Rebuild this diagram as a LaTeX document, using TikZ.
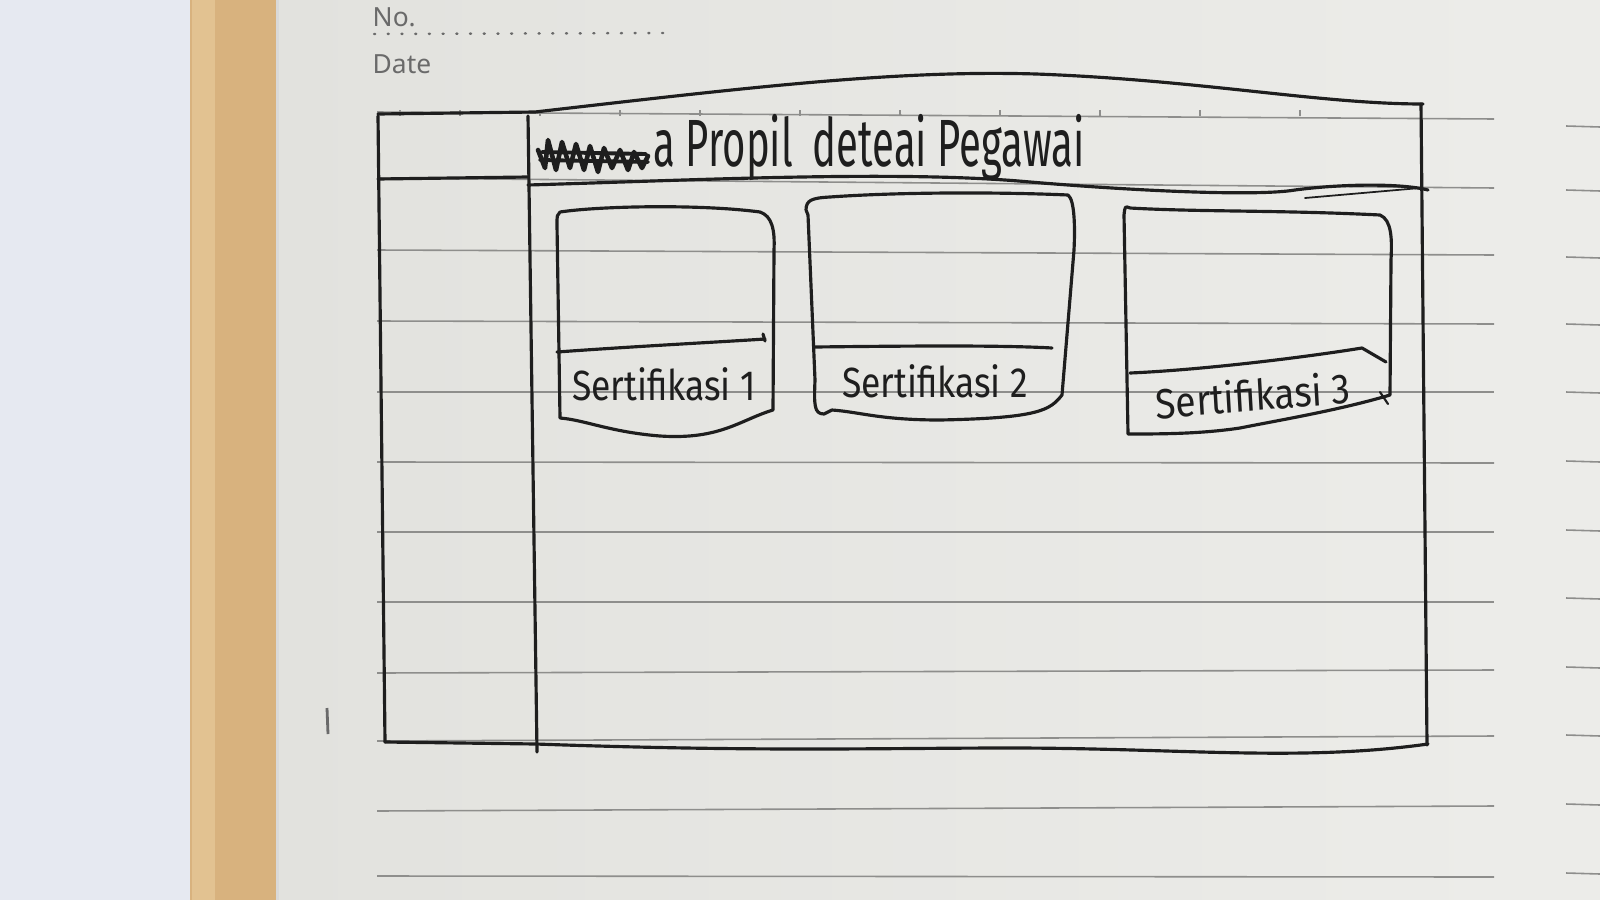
\documentclass[tikz,border=0pt]{standalone}
\usepackage{fontspec}
\setmainfont{Noto Sans}
\newfontfamily\hand{Fira Sans}
\usetikzlibrary{calc}
\definecolor{deskblue}{HTML}{E6E9F1}
\definecolor{wood}{HTML}{D8B27E}
\definecolor{woodlight}{HTML}{E2C291}
\definecolor{paper}{HTML}{E2E2DE}
\definecolor{paperlight}{HTML}{ECECE9}
\definecolor{rule}{HTML}{8E8E8C}
\definecolor{printgray}{HTML}{6A6A6A}
\definecolor{ink}{HTML}{1E1E1E}
\tikzset{
  ink/.style={draw=ink, line width=0.9pt, line cap=round, line join=round},
  ruled/.style={draw=rule, line width=0.45pt},
  handtext/.style={text=ink, font=\hand\fontsize{12}{14}\selectfont, inner sep=0pt, xscale=0.84},
  printtext/.style={text=printgray, font=\fontsize{7.5}{9}\selectfont, inner sep=0pt, anchor=west}
}
\begin{document}
\begin{tikzpicture}[x=0.01cm, y=-0.01cm]
\useasboundingbox (0,0) rectangle (1600,900);
% background: desk, wood edge, paper
\fill[deskblue] (0,0) rectangle (200,900);
\fill[wood] (190,0) rectangle (280,900);
\fill[woodlight] (192,0) rectangle (215,900);
\shade[left color=paper, right color=paperlight] (276,0) rectangle (1510,900);
\fill[paperlight] (1510,0) rectangle (1600,900);
\fill[black!15] (276,0) rectangle (279,900);
% printed header
\node[printtext] (no) at (372,17) {No.};
\draw[printgray, line width=0.7pt, line cap=round, dash pattern=on 0.3pt off 3.6pt] (374,34) -- (664,33);
\node[printtext] (date) at (372,64) {Date};
% ruled lines
\foreach \yl/\yr in {112/119, 178/188, 250/255, 321/324, 392/392, 462/463, 532/532, 602/602, 673/670, 741/736, 811/806, 876/877}{
  \draw[ruled] (377,\yl) -- (1494,\yr);
}
% tick marks on top line
\foreach \xx in {400,460,540,620,700,800,900,1000,1100,1200,1300}{
  \draw[ruled] (\xx,110) -- (\xx,116);
}
% short lines of the next page
\foreach \yy in {126,190,257,324,392,461,530,598,667,735,804,873}{
  \draw[ruled] (1566,\yy) -- (1600,\yy+1);
}
% small mark at left
\draw[printgray, line width=0.8pt] (327,708) -- (328,734);
% ===== wireframe =====
% outer frame
\draw[ink] (378,116) -- (385,742);
\draw[ink] (378,114) -- (535,112) .. controls (760,86) and (900,70) .. (1036,74)
  .. controls (1200,80) and (1320,104) .. (1423,104);
\draw[ink] (1421,104) -- (1427,745);
\draw[ink] (385,742) -- (536,744) .. controls (760,752) and (880,748) .. (1010,748)
  .. controls (1180,748) and (1300,762) .. (1428,744);
% sidebar
\draw[ink] (528,116) -- (537,752);
\draw[ink] (378,179) -- (528,177);
% header bottom
\draw[ink] (528,185) .. controls (700,180) and (900,170) .. (1030,182)
  .. controls (1150,192) and (1260,196) .. (1295,190)
  .. controls (1340,184) and (1400,183) .. (1428,190);
\draw[ink, line width=0.5pt] (1305,198) -- (1420,188);
% header text with crossed-out word
\draw[ink, line width=1.3pt] (538,150) -- (545,168) -- (548,140) -- (556,170) -- (562,142) -- (570,168) -- (576,144)
  -- (584,170) -- (590,146) -- (598,172) -- (604,148) -- (612,168) -- (620,150) -- (628,170) -- (634,152) -- (642,168) -- (648,156);
\draw[ink, line width=1.1pt] (540,160) -- (648,162);
\draw[ink, line width=1.1pt] (542,152) -- (646,154);
\node[text=ink, font=\hand\fontsize{19}{22}\selectfont, inner sep=0pt, anchor=west, xscale=0.6] (title) at (653,148) {a Propil\enspace deteai Pegawai};
% card 1
\draw[ink] (560,212) .. controls (600,206) and (700,204) .. (760,212)
  .. controls (772,216) and (775,230) .. (774,250) -- (773,410)
  .. controls (740,420) and (720,440) .. (660,436)
  .. controls (610,432) and (585,420) .. (560,418) -- (557,225) .. controls (557,215) .. (560,212);
\draw[ink] (557,352) .. controls (640,346) and (720,342) .. (765,339);
\draw[ink] (763,334) -- (765,341);
\node[handtext] (c1) at (664,384) {Sertifikasi 1};
% card 2
\draw[ink] (806,210) .. controls (806,200) and (812,198) .. (830,197)
  .. controls (900,192) and (1000,192) .. (1068,195)
  .. controls (1075,200) and (1075,230) .. (1074,250) -- (1062,395)
  .. controls (1050,410) and (1040,418) .. (940,420)
  .. controls (880,420) and (860,412) .. (832,410) -- (824,414)
  .. controls (814,414) and (814,405) .. (815,380) -- (808,215) -- (806,210);
\draw[ink] (815,347) .. controls (900,346) and (1000,345) .. (1052,348);
\node[handtext] (c2) at (935,381) {Sertifikasi 2};
% card 3
\draw[ink] (1130,208) .. controls (1200,212) and (1280,210) .. (1380,215)
  .. controls (1392,220) and (1392,240) .. (1391,260) -- (1390,395)
  .. controls (1340,410) and (1280,420) .. (1240,428)
  .. controls (1200,434) and (1160,434) .. (1128,434) -- (1124,215) .. controls (1125,206) .. (1130,208);
\draw[ink] (1130,373) .. controls (1200,370) and (1300,358) .. (1362,348) -- (1386,362);
\draw[ink, line width=0.6pt] (1380,392) -- (1388,404);
\node[handtext, rotate=4, xscale=1.05] (c3) at (1253,395) {Sertifikasi 3};
\end{tikzpicture}
\end{document}
